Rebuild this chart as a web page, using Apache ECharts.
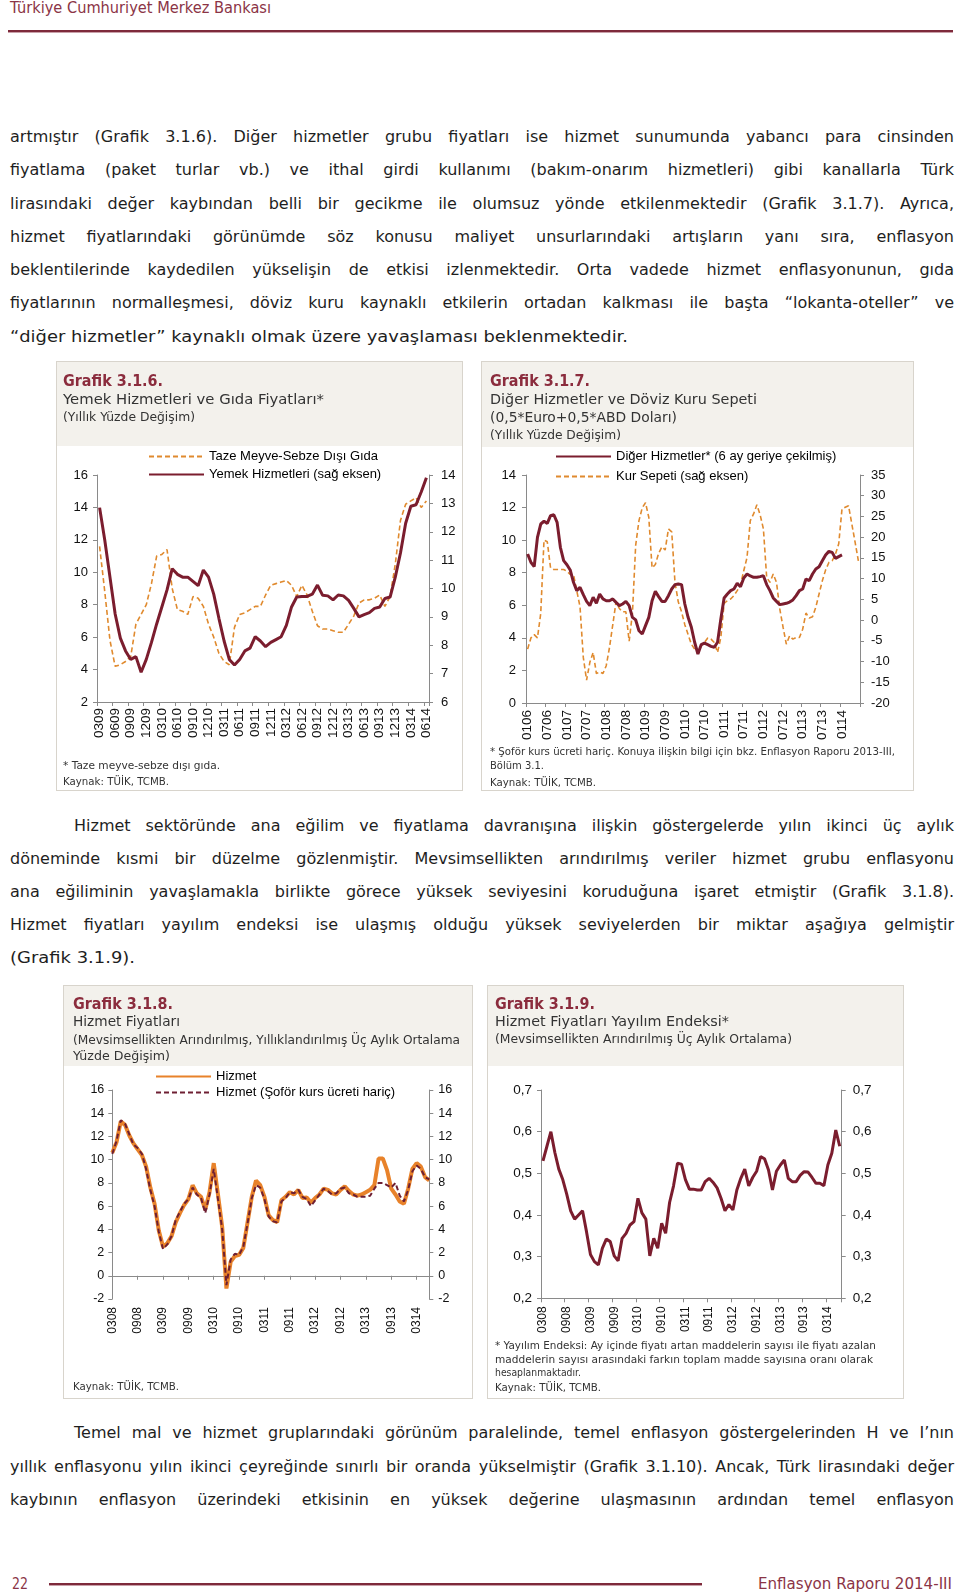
<!DOCTYPE html>
<html><head><meta charset="utf-8">
<script src="https://cdn.jsdelivr.net/npm/echarts@6/dist/echarts.min.js"></script>
<style>
html,body{margin:0;padding:0;background:#fff;}
#page{position:relative;width:960px;height:1596px;overflow:hidden;background:#fff;}
.t{position:absolute;white-space:nowrap;transform-origin:0 50%;}
.box{position:absolute;border:1px solid #d8d4cc;box-sizing:border-box;background:#fff;}
.tbg{position:absolute;background:#f3f1ec;}
.chart{position:absolute;}
.rule{position:absolute;height:0;border-top:2px solid #7e2a3b;border-bottom:1px solid #c9a0a9;}
</style></head><body><div id="page"></div>
<script>
// ---------- DATA ----------
const cat316 = monthLabels(2009, 3, 64);   // 0309 .. 0614
const tazeGida = [11.6,8.8,5.8,4.2,4.3,4.5,4.8,6.8,7.4,8.0, 9.3,11.0,11.1,11.4,9.0,7.7,7.6,7.4,8.5,8.4,
  7.9,6.8,6.0,5.0,4.5,4.3,6.6,7.4,7.5,7.7, 7.9,7.9,8.6,9.2,9.3,9.4,9.5,9.2,8.5,9.2,
  8.6,7.6,6.7,6.5,6.5,6.4,6.3,6.3,6.8,7.3, 8.1,8.3,8.3,8.4,8.6,7.9,8.5,10.5,13.2,14.2, 14.4,14.6,14.0,14.4];
const yemekHizmet = [12.85,11.7,10.4,9.1,8.25,7.8,7.5,7.6,7.05,7.5, 8.1,8.75,9.35,9.95,10.7,10.5,10.4,10.4,10.25,10.1,
  10.65,10.4,9.8,8.95,8.15,7.5,7.3,7.5,7.8,7.9, 8.3,8.15,7.95,8.1,8.2,8.3,8.7,9.35,9.7,9.72,
  9.72,9.8,10.12,9.76,9.74,9.6,9.77,9.74,9.58,9.3, 9.0,9.08,9.15,9.3,9.35,9.65,9.7,10.4,11.25,12.3, 12.9,12.95,13.4,13.9];

const cat317 = monthLabels(2006, 1, 102);  // 0106 .. 0614
const digerHizmet = [9.15,8.64,8.37,10.17,10.99,11.16,11.03,11.5,11.56,11.09,
  9.56,8.74,8.49,8.17,7.41,6.9,7.1,6.65,6.24,5.98, 6.49,6.12,6.69,6.39,6.28,6.28,6.39,6.18,5.98,6.08,
  6.24,5.98,5.26,5.1,4.44,4.24,4.75,5.26,6.28,6.86, 6.53,6.24,6.24,6.59,7.0,7.27,7.31,7.27,6.08,5.26,
  4.65,3.73,3.01,3.58,3.68,3.58,3.48,3.42,3.73,5.16, 6.45,6.69,6.9,7.0,7.35,7.14,7.68,7.92,7.8,7.72,
  7.72,7.76,7.82,7.27,6.9,6.45,6.24,6.04,6.08,6.12, 6.2,6.33,6.59,6.9,7.0,7.61,7.51,7.92,8.23,8.37,
  8.74,9.09,9.31,9.25,8.88,8.99,9.09];
const kurSepeti = [-7.0,-4.3,-3.5,-4.3,1.6,19.3,18.9,12.6,12.2,12.2, 12.2,12.2,11.8,11.0,11.0,7.1,3.2,-9.0,-14.5,-10.2,
  -7.8,-12.9,-12.5,-12.9,-11.0,-6.6,-1.1,4.4,2.8,2.0, 2.0,-5.1,1.6,18.1,24.0,27.1,28.3,24.8,12.6,13.4,
  16.1,17.7,16.9,22.0,21.3,9.1,4.4,2.0,-1.1,-3.5, -5.8,-7.0,-8.0,-6.2,-5.4,-4.3,-4.6,-5.4,-7.8,-4.2,
  4.0,4.7,5.1,5.9,7.1,8.5,11.9,15.1,24.0,25.6, 27.8,25.4,22.0,10.3,9.1,11.1,9.1,2.7,-1.7,-5.8,
  -3.8,-4.6,-4.2,-4.2,-2.2,1.7,0.5,0.8,3.1,6.3, 9.5,12.1,13.9,14.3,15.9,18.4,26.8,27.2,27.6,23.2, 18.8,14.3];

const cat318 = monthLabels(2008, 3, 76);   // 0308 .. 0614
const hizmet = [10.6,11.5,13.3,13.0,12.1,11.4,10.9,10.4,9.4,7.6, 6.2,3.9,2.5,2.8,3.4,4.6,5.4,6.1,6.6,7.8,
  7.1,6.8,5.7,7.2,9.7,7.0,4.2,-1.1,1.2,1.7, 1.8,2.4,4.6,6.8,8.2,7.8,6.8,5.2,4.8,4.6,
  6.5,6.8,7.2,7.0,7.4,6.7,6.75,6.3,6.7,7.0, 7.5,7.4,7.1,7.0,7.4,7.7,7.3,7.0,6.9,7.0,
  7.2,7.4,7.8,10.1,10.1,9.1,7.5,7.0,6.4,6.2, 7.5,9.2,9.7,9.4,8.5,8.2];
const hizmetSoforHaric = [10.5,11.6,13.4,13.1,12.2,11.3,11.0,10.5,9.2,7.4, 6.0,3.8,2.3,2.7,3.4,4.8,5.5,6.2,6.6,7.6,
  7.0,6.7,5.4,7.0,9.2,6.6,4.0,-0.8,1.4,1.9, 1.8,2.5,4.5,6.7,7.8,7.6,6.6,5.1,4.7,4.6,
  6.4,6.7,7.2,7.1,7.4,6.8,6.6,6.0,6.5,7.0, 7.5,7.3,7.0,7.1,7.5,7.6,7.1,7.0,6.8,6.8,
  6.8,6.9,7.5,8.0,8.0,7.8,7.6,8.0,6.9,6.4, 7.4,9.0,9.5,9.2,8.5,8.3];

const cat319 = monthLabels(2008, 3, 76);   // 0308 .. 0614
const yayilimEndeksi = [0.53,0.565,0.60,0.55,0.51,0.485,0.45,0.41,0.39,0.40, 0.41,0.36,0.305,0.288,0.28,0.32,0.342,0.336,0.302,0.29,
  0.344,0.356,0.376,0.384,0.44,0.405,0.39,0.302,0.344,0.32, 0.38,0.356,0.43,0.47,0.524,0.522,0.485,0.462,0.462,0.46,
  0.46,0.48,0.488,0.478,0.465,0.44,0.41,0.425,0.412,0.46, 0.488,0.51,0.47,0.49,0.505,0.54,0.535,0.508,0.46,0.505,
  0.52,0.532,0.488,0.48,0.48,0.495,0.504,0.503,0.49,0.476, 0.476,0.47,0.52,0.548,0.604,0.565];

function monthLabels(y, m, n) {
  const out = [];
  for (let k = 0; k < n; k++) {
    const mm = ((m - 1 + k) % 12) + 1, yy = (y + Math.floor((m - 1 + k) / 12)) % 100;
    out.push(String(mm).padStart(2, '0') + String(yy).padStart(2, '0'));
  }
  return out;
}

// ---------- TEXT ----------
const para1 = [
 'artmıştır (Grafik 3.1.6). Diğer hizmetler grubu fiyatları ise hizmet sunumunda yabancı para cinsinden',
 'fiyatlama (paket turlar vb.) ve ithal girdi kullanımı (bakım-onarım hizmetleri) gibi kanallarla Türk',
 'lirasındaki değer kaybından belli bir gecikme ile olumsuz yönde etkilenmektedir (Grafik 3.1.7). Ayrıca,',
 'hizmet fiyatlarındaki görünümde söz konusu maliyet unsurlarındaki artışların yanı sıra, enflasyon',
 'beklentilerinde kaydedilen yükselişin de etkisi izlenmektedir. Orta vadede hizmet enflasyonunun, gıda',
 'fiyatlarının normalleşmesi, döviz kuru kaynaklı etkilerin ortadan kalkması ile başta “lokanta-oteller” ve',
 '“diğer hizmetler” kaynaklı olmak üzere yavaşlaması beklenmektedir.'
];
const para2 = [
 'Hizmet sektöründe ana eğilim ve fiyatlama davranışına ilişkin göstergelerde yılın ikinci üç aylık',
 'döneminde kısmi bir düzelme gözlenmiştir. Mevsimsellikten arındırılmış veriler hizmet grubu enflasyonu',
 'ana eğiliminin yavaşlamakla birlikte görece yüksek seviyesini koruduğuna işaret etmiştir (Grafik 3.1.8).',
 'Hizmet fiyatları yayılım endeksi ise ulaşmış olduğu yüksek seviyelerden bir miktar aşağıya gelmiştir',
 '(Grafik 3.1.9).'
];
const para3 = [
 'Temel mal ve hizmet gruplarındaki görünüm paralelinde, temel enflasyon göstergelerinden H ve I’nın',
 'yıllık enflasyonu yılın ikinci çeyreğinde sınırlı bir oranda yükselmiştir (Grafik 3.1.10). Ancak, Türk lirasındaki değer',
 'kaybının enflasyon üzerindeki etkisinin en yüksek değerine ulaşmasının ardından temel enflasyon'
];

const page = document.getElementById('page');
const BODY = '16px "DejaVu Sans", sans-serif';
const TF = '"DejaVu Sans", sans-serif';

function addDiv(cls, st) { const d = document.createElement('div'); d.className = cls; Object.assign(d.style, st); page.appendChild(d); return d; }
function txt(t, x, cy, opt) {
  const lh = 20;
  const d = addDiv('t', { left: x + 'px', top: (cy - lh / 2) + 'px', lineHeight: lh + 'px', font: opt.font, color: opt.color || '#1e1e1e', zIndex: 5 });
  d.textContent = t;
  const nat = d.getBoundingClientRect().width;
  if (opt.w) {
    if (opt.justify) {
      const gaps = (t.match(/ /g) || []).length;
      const ws = (opt.w - nat) / Math.max(gaps, 1);
      if (ws >= 0) d.style.wordSpacing = ws + 'px';
      else d.style.transform = 'scaleX(' + (opt.w / nat) + ')';
    } else {
      d.style.transform = 'scaleX(' + (opt.w / nat) + ')';
    }
  }
  return d;
}
function paragraph(lines, y0, step, lastW, indentFirst, justifyLast) {
  lines.forEach((l, i) => {
    const x = (i === 0 && indentFirst) ? 74 : 10;
    const last = i === lines.length - 1;
    if (last && !justifyLast) txt(l, x, y0 + i * step, { font: BODY, w: lastW });
    else txt(l, x, y0 + i * step, { font: BODY, w: 954 - x, justify: true });
  });
}

// header / footer
txt('Türkiye Cumhuriyet Merkez Bankası', 10, 9, { font: '15px ' + TF, color: '#8b3446', w: 261 });
addDiv('rule', { left: '8px', top: '30px', width: '945px' });
txt('22', 12, 1585, { font: '15px ' + TF, color: '#8b3446', w: 16 });
addDiv('rule', { left: '49px', top: '1583px', width: '653px' });
txt('Enflasyon Raporu 2014-III', 758, 1585, { font: '15px ' + TF, color: '#8b3446', w: 194 });

paragraph(para1, 137, 33.27, 618, false, false);
paragraph(para2, 826, 33.07, 125, true, false);
paragraph(para3, 1433, 33.6, 0, true, true);

// boxes
function box(l, t, w, h, th) {
  addDiv('box', { left: l + 'px', top: t + 'px', width: w + 'px', height: h + 'px' });
  addDiv('tbg', { left: (l + 1) + 'px', top: (t + 1) + 'px', width: (w - 2) + 'px', height: th + 'px' });
  const c = addDiv('chart', { left: l + 'px', top: t + 'px', width: w + 'px', height: h + 'px', zIndex: 2 });
  return c;
}
const c1 = box(56, 361, 407, 430, 84);
const c2 = box(481, 361, 433, 430, 85);
const c3 = box(63, 985, 410, 414, 80);
const c4 = box(487, 985, 417, 414, 80);

const GT = { font: 'bold 16px ' + TF, color: '#8b2c3d' };
const ST = '14px ' + TF, SS = '12.5px ' + TF, FN = '10.5px ' + TF;
txt('Grafik 3.1.6.', 63, 381, { ...GT, w: 100 });
txt('Yemek Hizmetleri ve Gıda Fiyatları*', 63, 401, { font: ST, color: '#333', w: 261 });
txt('(Yıllık Yüzde Değişim)', 63, 418.5, { font: SS, color: '#333', w: 132 });
txt('* Taze meyve-sebze dışı gıda.', 63, 769, { font: FN, color: '#333', w: 157 });
txt('Kaynak: TÜİK, TCMB.', 63, 785, { font: FN, color: '#333', w: 106 });

txt('Grafik 3.1.7.', 490, 381, { ...GT, w: 100 });
txt('Diğer Hizmetler ve Döviz Kuru Sepeti', 490, 401, { font: ST, color: '#333', w: 267 });
txt('(0,5*Euro+0,5*ABD Doları)', 490, 419, { font: ST, color: '#333', w: 187 });
txt('(Yıllık Yüzde Değişim)', 490, 437, { font: SS, color: '#333', w: 131 });
txt('* Şoför kurs ücreti hariç. Konuya ilişkin bilgi için bkz. Enflasyon Raporu 2013-III,', 490, 755, { font: FN, color: '#333', w: 405 });
txt('Bölüm 3.1.', 490, 769, { font: FN, color: '#333', w: 54 });
txt('Kaynak: TÜİK, TCMB.', 490, 785.5, { font: FN, color: '#333', w: 106 });

txt('Grafik 3.1.8.', 73, 1004, { ...GT, w: 100 });
txt('Hizmet Fiyatları', 73, 1023, { font: ST, color: '#333', w: 107 });
txt('(Mevsimsellikten Arındırılmış, Yıllıklandırılmış Üç Aylık Ortalama', 73, 1042, { font: SS, color: '#333', w: 387 });
txt('Yüzde Değişim)', 73, 1058, { font: SS, color: '#333', w: 97 });
txt('Kaynak: TÜİK, TCMB.', 73, 1390, { font: FN, color: '#333', w: 106 });

txt('Grafik 3.1.9.', 495, 1004, { ...GT, w: 100 });
txt('Hizmet Fiyatları Yayılım Endeksi*', 495, 1023, { font: ST, color: '#333', w: 234 });
txt('(Mevsimsellikten Arındırılmış Üç Aylık Ortalama)', 495, 1041, { font: SS, color: '#333', w: 297 });
txt('* Yayılım Endeksi: Ay içinde fiyatı artan maddelerin sayısı ile fiyatı azalan', 495, 1349, { font: FN, color: '#333', w: 381 });
txt('maddelerin sayısı arasındaki farkın toplam madde sayısına oranı olarak', 495, 1363, { font: FN, color: '#333', w: 378 });
txt('hesaplanmaktadır.', 495, 1376, { font: FN, color: '#333', w: 86 });
txt('Kaynak: TÜİK, TCMB.', 495, 1391, { font: FN, color: '#333', w: 106 });

// ---------- CHARTS ----------
const AX = '#8a8a8a';
const AF = '"Liberation Sans", Arial, sans-serif';
const MAROON = '#7b1d2e', ORANGE = '#e08a2e';
function yAx(min, max, interval, position, margin, fs, fmt) {
  return { type: 'value', position, min, max, interval,
    splitLine: { show: false },
    axisLine: { show: true, onZero: false, lineStyle: { color: AX, width: 1 } },
    axisTick: { show: true, inside: false, length: 4, lineStyle: { color: AX } },
    axisLabel: { show: true, margin, color: '#111', fontSize: fs, fontFamily: AF, showMinLabel: true, showMaxLabel: true, formatter: fmt } };
}
function xAx(cats, gap, interval, margin, fs) {
  return { type: 'category', data: cats, boundaryGap: gap, position: 'bottom',
    axisLine: { show: true, onZero: false, lineStyle: { color: AX } },
    axisTick: { show: true, interval, alignWithLabel: false, length: 4, lineStyle: { color: AX } },
    axisLabel: { show: true, interval, rotate: 90, margin, color: '#111', fontSize: fs, fontFamily: AF, hideOverlap: false },
    splitLine: { show: false } };
}
function line(name, data, yi, color, width, dash, z) {
  return { name, type: 'line', data, yAxisIndex: yi, symbol: 'none', showSymbol: false, smooth: false,
    lineStyle: { color, width, type: dash || 'solid' }, itemStyle: { color }, z: z || 2, silent: true };
}
function legend(left, top, gap, names) {
  return { show: true, orient: 'vertical', left, top, padding: 0, itemWidth: 55, itemHeight: 14, itemGap: gap,
    itemStyle: { opacity: 0 },
    textStyle: { fontSize: 13, color: '#000', fontFamily: AF }, data: names, selectedMode: false };
}
function init(el, opt) { const ch = echarts.init(el, null, { renderer: 'canvas' }); ch.setOption(Object.assign({ animation: false }, opt)); }

init(c1, {
  grid: { left: 41, top: 114, width: 332, height: 227, containLabel: false, outerBoundsMode: 'none' },
  legend: legend(92, 89, 5, ['Taze Meyve-Sebze Dışı Gıda', 'Yemek Hizmetleri (sağ eksen)']),
  xAxis: xAx(cat316, true, 2, 6, 13.5),
  yAxis: [yAx(2, 16, 2, 'left', 9, 13), yAx(6, 14, 1, 'right', 12, 13)],
  series: [line('Taze Meyve-Sebze Dışı Gıda', tazeGida, 0, ORANGE, 1.6, [5, 3], 2),
           line('Yemek Hizmetleri (sağ eksen)', yemekHizmet, 1, MAROON, 3, null, 3)]
});

init(c2, {
  grid: { left: 45, top: 114, width: 334, height: 228, containLabel: false, outerBoundsMode: 'none' },
  legend: legend(74, 89, 7, ['Diğer Hizmetler* (6 ay geriye çekilmiş)', 'Kur Sepeti (sağ eksen)']),
  xAxis: xAx(cat317, true, 5, 7, 13.5),
  yAxis: [yAx(0, 14, 2, 'left', 10, 13), yAx(-20, 35, 5, 'right', 11, 13)],
  series: [line('Diğer Hizmetler* (6 ay geriye çekilmiş)', digerHizmet, 0, MAROON, 3, null, 3),
           line('Kur Sepeti (sağ eksen)', kurSepeti, 1, ORANGE, 1.6, [5, 3], 2)]
});

const x3 = xAx(cat318, false, 5, 8, 12);
x3.axisLine = { show: false, onZero: false };
x3.axisTick = { show: false };
const x3zero = { type: 'category', data: cat318, boundaryGap: false, position: 'bottom',
  axisLine: { show: true, onZero: true, lineStyle: { color: AX } },
  axisTick: { show: true, interval: 5, length: 4, lineStyle: { color: AX } },
  axisLabel: { show: false }, splitLine: { show: false } };
init(c3, {
  grid: { left: 49.3, top: 105, width: 317, height: 209, containLabel: false, outerBoundsMode: 'none' },
  legend: legend(92, 85, 3, ['Hizmet', 'Hizmet (Şoför kurs ücreti hariç)']),
  xAxis: [x3, x3zero],
  yAxis: [yAx(-2, 16, 2, 'left', 8, 12.5), yAx(-2, 16, 2, 'right', 9, 12.5)],
  series: [line('Hizmet', hizmet, 0, '#e8822a', 4, null, 2),
           line('Hizmet (Şoför kurs ücreti hariç)', hizmetSoforHaric, 0, '#6e1f33', 2, [5, 3], 3)]
});

const fmt1 = v => v.toFixed(1).replace('.', ',');
init(c4, {
  grid: { left: 54, top: 105, width: 300.7, height: 208.3, containLabel: false, outerBoundsMode: 'none' },
  xAxis: xAx(cat319, true, 5, 8, 12),
  yAxis: [yAx(0.2, 0.7, 0.1, 'left', 9, 13.5, fmt1), yAx(0.2, 0.7, 0.1, 'right', 11, 13.5, fmt1)],
  series: [line('Yayılım Endeksi', yayilimEndeksi, 0, MAROON, 3, null, 2)]
});
</script></body></html>
